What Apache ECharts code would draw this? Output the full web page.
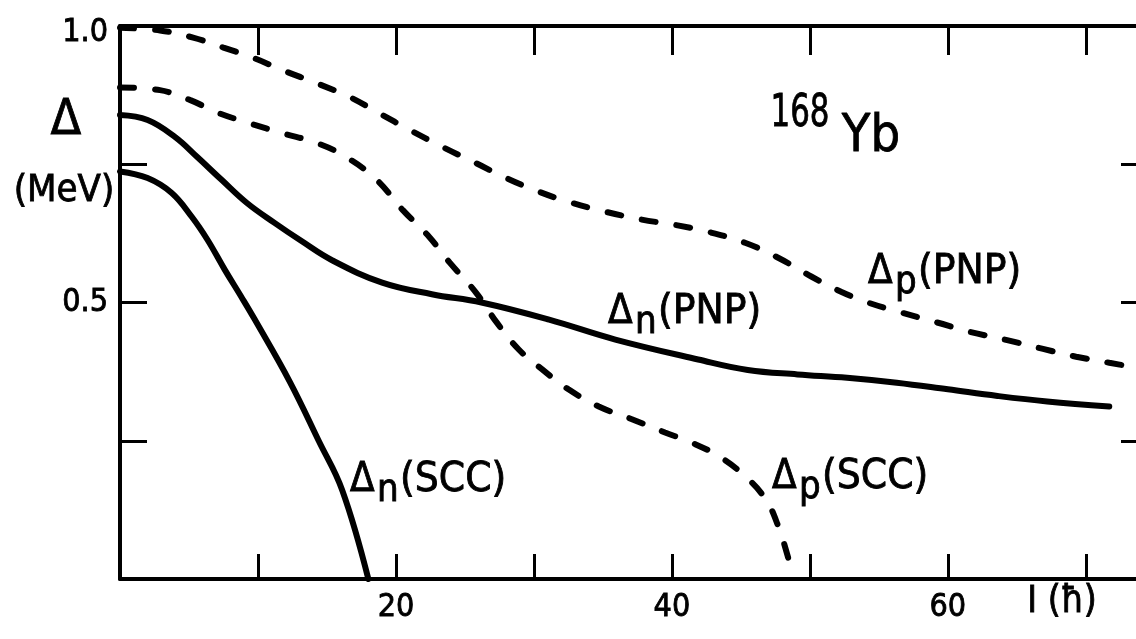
<!DOCTYPE html>
<html>
<head>
<meta charset="utf-8">
<script src="https://cdn.jsdelivr.net/npm/echarts@6/dist/echarts.min.js"></script>
<style>
  html, body { margin: 0; padding: 0; background: #fff; }
  #chart { width: 1136px; height: 639px; }
</style>
</head>
<body>
<div id="chart"></div>
<script>
// spin I (hbar) and gap (MeV)
const dnSccI   = [0, 2.0, 3.75, 5.2, 6.35, 7.6, 8.8, 9.75, 12.3, 14.4, 16.1, 18.0];
const dnSccGap = [0.737, 0.725, 0.698, 0.655, 0.613, 0.559, 0.51, 0.47, 0.357, 0.25, 0.161, 0];

const dnPnpI   = [0, 2.0, 4.0, 5.6, 7.4, 9.2, 11.2, 13.1, 15.4, 19.0, 22.6, 26.2, 31.1, 35.9, 41.9, 45.5, 49.1, 52.7, 56.3, 60.0, 63.6, 67.2, 71.7];
const dnPnpGap = [0.839, 0.83, 0.799, 0.763, 0.721, 0.68, 0.644, 0.612, 0.576, 0.536, 0.515, 0.5, 0.469, 0.433, 0.397, 0.378, 0.37, 0.364, 0.355, 0.343, 0.331, 0.321, 0.312];

const dpSccI   = [0, 2.9, 5.1, 7.0, 9.4, 11.8, 14.3, 16.4, 18.6, 20.5, 22.4, 23.9, 25.8, 27.3, 28.9, 30.6, 32.5, 34.7, 37.1, 39.5, 41.4, 43.4, 45.3, 46.8, 47.7, 48.4, 48.8];
const dpSccGap = [0.889, 0.884, 0.866, 0.844, 0.824, 0.806, 0.788, 0.763, 0.722, 0.667, 0.619, 0.572, 0.518, 0.464, 0.415, 0.379, 0.343, 0.312, 0.289, 0.265, 0.247, 0.222, 0.186, 0.144, 0.096, 0.041, 0.003];

const dpPnpI   = [0, 2.9, 5.3, 7.5, 9.7, 11.8, 14.3, 16.7, 18.8, 21.0, 23.4, 25.8, 28.0, 30.2, 32.5, 35.2, 37.8, 40.3, 42.6, 45.3, 47.7, 50.1, 52.3, 54.2, 56.6, 59.2, 61.6, 64.3, 66.9, 69.3, 71.7, 74.0];
const dpPnpGap = [0.997, 0.992, 0.979, 0.961, 0.942, 0.92, 0.896, 0.871, 0.842, 0.812, 0.781, 0.752, 0.725, 0.702, 0.682, 0.664, 0.65, 0.64, 0.628, 0.608, 0.581, 0.547, 0.519, 0.5, 0.482, 0.464, 0.447, 0.432, 0.416, 0.402, 0.391, 0.381];

const xTickLabels = [20, 40, 60];
const yTickLabels = [0.5, 1.0];

const FONT = '"DejaVu Sans Condensed", "DejaVu Sans", sans-serif';

function pairs(xs, ys) {
  return xs.map((x, i) => [x, ys[i]]);
}

function curve(name, xs, ys, dashed) {
  return {
    name: name,
    type: 'line',
    data: pairs(xs, ys),
    showSymbol: false,
    smooth: 0.4,
    lineStyle: {
      color: '#000',
      width: 6,
      type: dashed ? [14, 21] : 'solid',
      cap: 'round'
    },
    z: 3
  };
}

const ink = { fill: '#000', stroke: '#000', lineWidth: 0.8 };

// curve label: big delta, lowered subscript, then the rest
function lab(x, y, sub, rest) {
  const st = Object.assign({ font: '40px ' + FONT, verticalAlign: 'middle' }, ink);
  return [
    { type: 'text', x: x, y: y, style: Object.assign({}, st, { text: 'Δ' }) },
    { type: 'text', x: x + 27, y: y + 10, style: Object.assign({}, st, { text: sub, font: '38px ' + FONT }) },
    { type: 'text', x: x + 50, y: y, scaleX: 1.05, style: Object.assign({}, st, { text: rest }) }
  ];
}

function txt(x, y, text, font, extra) {
  return Object.assign({
    type: 'text', x: x, y: y,
    style: Object.assign({ text: text, font: font, align: 'center', verticalAlign: 'middle' }, ink)
  }, extra || {});
}

const chart = echarts.init(document.getElementById('chart'));

const axisLine = { onZero: false, lineStyle: { color: '#000', width: 4 } };
const tickStyle = { color: '#000', width: 3 };
const tickFont = {
  fontSize: 32, color: '#000', fontFamily: FONT,
  textBorderColor: '#000', textBorderWidth: 0.8
};

chart.setOption({
  animation: false,
  backgroundColor: '#fff',
  grid: { left: 120, top: 26, width: 1021, height: 553, outerBoundsMode: 'none', containLabel: false },
  xAxis: [
    {
      type: 'value', min: 0, max: 74, interval: 10, position: 'bottom',
      axisLine: axisLine,
      axisTick: { inside: true, length: 25, lineStyle: tickStyle },
      axisLabel: Object.assign({
        margin: 13,
        formatter: v => xTickLabels.indexOf(v) >= 0 ? String(v) : ''
      }, tickFont),
      splitLine: { show: false }
    },
    {
      type: 'value', min: 0, max: 74, interval: 10, position: 'top',
      axisLine: axisLine,
      axisTick: { inside: true, length: 29, lineStyle: tickStyle },
      axisLabel: { show: false },
      splitLine: { show: false }
    }
  ],
  yAxis: [
    {
      type: 'value', min: 0, max: 1, interval: 0.25, position: 'left',
      axisLine: axisLine,
      axisTick: { inside: true, length: 27, lineStyle: tickStyle },
      axisLabel: Object.assign({
        margin: 12,
        formatter: v => v === 1 ? '{top|1.0}' : (yTickLabels.indexOf(v) >= 0 ? v.toFixed(1) : ''),
        rich: { top: Object.assign({ padding: [14, 0, 0, 0] }, tickFont) }
      }, tickFont),
      splitLine: { show: false }
    },
    {
      type: 'value', min: 0, max: 1, interval: 0.25, position: 'right',
      axisLine: { show: false, onZero: false },
      axisTick: { show: true, inside: true, length: 20, lineStyle: tickStyle },
      axisLabel: { show: false },
      splitLine: { show: false }
    }
  ],
  series: [
    curve('Δn(SCC)', dnSccI, dnSccGap, false),
    curve('Δn(PNP)', dnPnpI, dnPnpGap, false),
    curve('Δp(SCC)', dpSccI, dpSccGap, true),
    curve('Δp(PNP)', dpPnpI, dpPnpGap, true)
  ],
  graphic: [
    txt(66, 121, 'Δ', '50px ' + FONT),
    txt(64, 191, '(MeV)', '38px ' + FONT),
    txt(800, 115, '168', '44px ' + FONT, { scaleX: 0.78 }),
    txt(871, 137, 'Yb', '52px ' + FONT),
    txt(1062, 602, 'I (ħ)', '37px ' + FONT)
  ]
    .concat(lab(608, 313, 'n', '(PNP)'))
    .concat(lab(868, 273, 'p', '(PNP)'))
    .concat(lab(350, 481, 'n', '(SCC)'))
    .concat(lab(772, 478, 'p', '(SCC)'))
});
</script>
</body>
</html>
